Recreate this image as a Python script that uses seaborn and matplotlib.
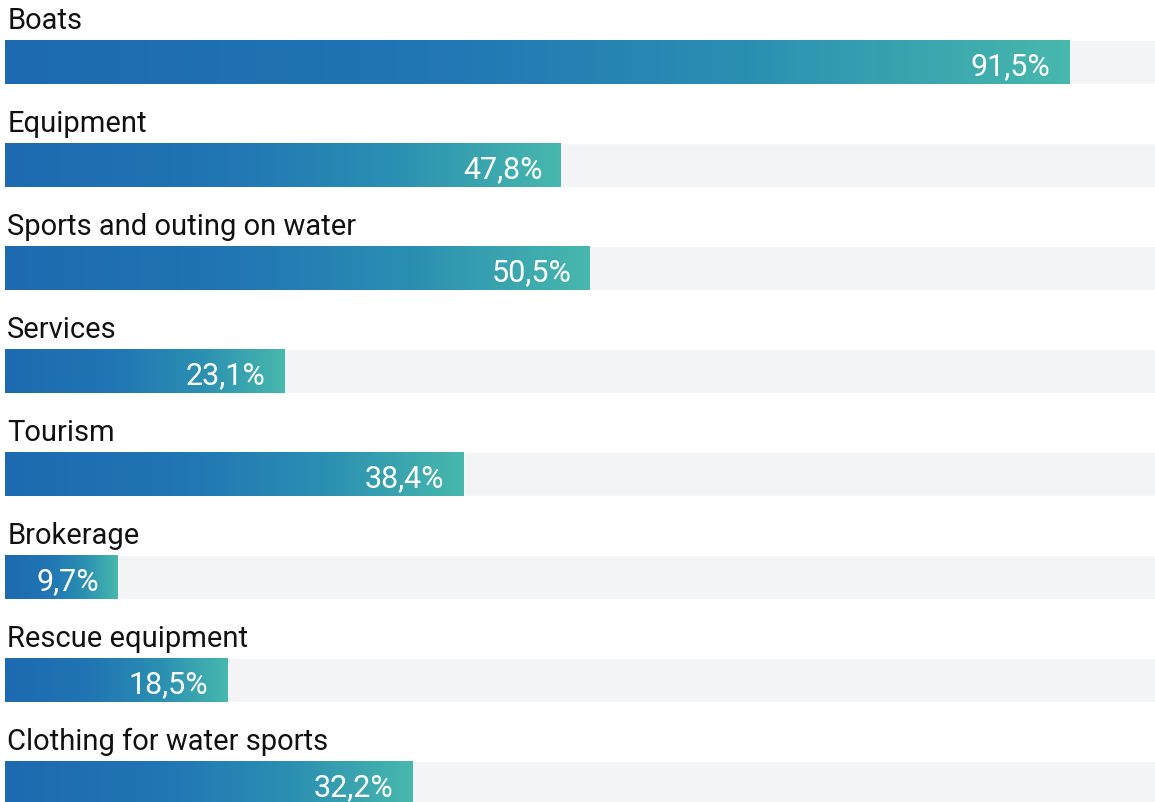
import numpy as np
import pandas as pd
import matplotlib
matplotlib.use('Agg')
import matplotlib.pyplot as plt
import seaborn as sns
from matplotlib.colors import LinearSegmentedColormap

# Chart data
categories = ['Boats', 'Equipment', 'Sports and outing on water', 'Services',
              'Tourism', 'Brokerage', 'Rescue equipment', 'Clothing for water sports']
value_labels = ['91,5%', '47,8%', '50,5%', '23,1%', '38,4%', '9,7%', '18,5%', '32,2%']
# bar lengths as drawn in the picture (% of the full track)
bar_lengths = [91.5, 47.8, 50.3, 24.0, 39.4, 9.7, 19.1, 35.0]

data = pd.DataFrame({'category': categories, 'share': bar_lengths, 'track': 100})

sns.set_theme(style='white')
plt.rcParams['font.family'] = ['Roboto', 'DejaVu Sans']

W, H = 1155, 803
fig = plt.figure(figsize=(W / 100, H / 100), dpi=100)
# 0% sits at x=5px, 100% at about 1168px (past the right edge)
ax = fig.add_axes([5 / W, 0, 1163 / W, 1])

bar_h = 44 / 103
sns.barplot(data=data, y='category', x='track', orient='h', color='#f3f4f6',
            width=bar_h, ax=ax, saturation=1)
sns.barplot(data=data, y='category', x='share', orient='h', color='#1f6fb3',
            width=bar_h, ax=ax, saturation=1)

grad = LinearSegmentedColormap.from_list(
    'blueteal', [(0, '#1d6ab0'), (0.4, '#2176b4'), (0.7, '#2b8fb2'), (1, '#47b8ad')])
ramp = np.linspace(0, 1, 256).reshape(1, -1)

bars = ax.patches[len(categories):]
for i, (patch, v, lab) in enumerate(zip(bars, bar_lengths, value_labels)):
    y0 = patch.get_y()
    y1 = y0 + patch.get_height()
    im = ax.imshow(ramp, cmap=grad, aspect='auto', extent=[0, v, y1, y0],
                   interpolation='bicubic', zorder=3)
    im.set_clip_path(patch)
    ax.text(v - 1.6, i + 0.04, lab, ha='right', va='center', color='white',
            fontsize=22, fontweight='normal', zorder=4)
    ax.text(0.2, i - 0.33, categories[i], ha='left', va='baseline',
            color='#111111', fontsize=21, fontweight='normal', zorder=4)

ax.set_xlim(0, 100)
ax.set_ylim((H - 63) / 103, -63 / 103)
ax.axis('off')

fig.savefig('out.png', dpi=100)
